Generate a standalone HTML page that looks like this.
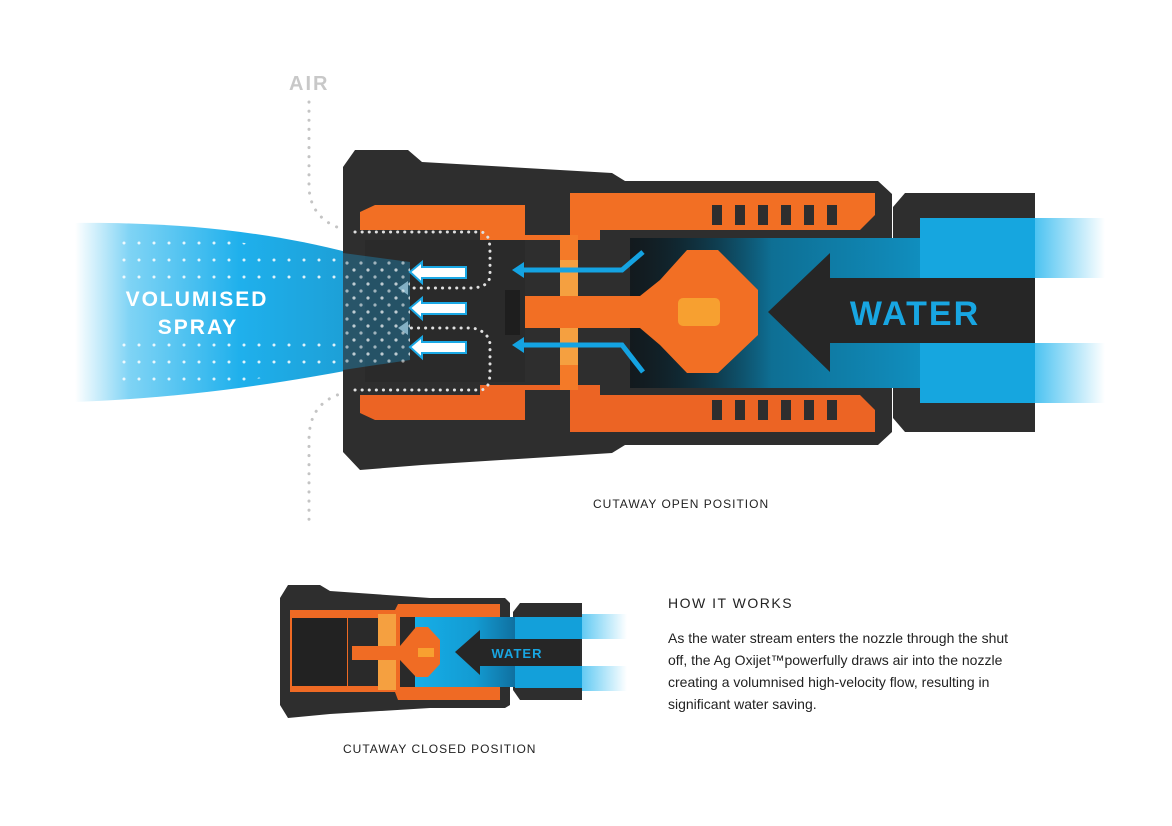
<!DOCTYPE html>
<html><head><meta charset="utf-8"><style>
html,body{margin:0;padding:0;background:#fff;width:1172px;height:826px;overflow:hidden}
svg{position:absolute;left:0;top:0}
.t{position:absolute;font-family:"Liberation Sans",sans-serif;color:#222}
</style></head><body>
<svg width="1172" height="826" viewBox="0 0 1172 826">
<defs>
<linearGradient id="spray" x1="0" x2="1" y1="0" y2="0">
<stop offset="0" stop-color="#29b6ee" stop-opacity="0"/>
<stop offset="0.2" stop-color="#29b6ee" stop-opacity="0.6"/>
<stop offset="0.6" stop-color="#1fb0ec"/>
<stop offset="1" stop-color="#1d9fd6"/>
</linearGradient>
<linearGradient id="water" x1="0" x2="1">
<stop offset="0" stop-color="#0a1a22" stop-opacity="0.2"/>
<stop offset="0.35" stop-color="#0e6f94"/>
<stop offset="1" stop-color="#12a6df"/>
</linearGradient>
<linearGradient id="fade" x1="0" x2="1">
<stop offset="0" stop-color="#20b4ee"/>
<stop offset="1" stop-color="#20b4ee" stop-opacity="0"/>
</linearGradient>
<linearGradient id="water2" x1="0" x2="1">
<stop offset="0" stop-color="#16aee8"/>
<stop offset="0.6" stop-color="#139bd2"/>
<stop offset="1" stop-color="#1070a0"/>
</linearGradient>
<pattern id="dots" width="15" height="17" patternUnits="userSpaceOnUse">
<circle cx="4" cy="5" r="1.5" fill="#fff"/>
</pattern>
<pattern id="dots2" width="14" height="14" patternUnits="userSpaceOnUse">
<circle cx="4" cy="4" r="1.6" fill="#fff"/><circle cx="11" cy="11" r="1.6" fill="#fff" opacity="0.8"/>
</pattern>
</defs>

<path d="M75,223 C180,222 270,232 350,253 L350,370 C270,385 180,398 75,402 Z" fill="url(#spray)"/>
<path d="M115,235 C200,235 280,245 350,262 L350,285 L115,285 Z M115,340 L350,340 L350,362 C280,375 200,392 115,390 Z" fill="url(#dots)" opacity="0.85"/>
<text x="197" y="306" fill="#fff" font-family="Liberation Sans,sans-serif" font-size="21" font-weight="bold" letter-spacing="2" text-anchor="middle">VOLUMISED</text>
<text x="198" y="334" fill="#fff" font-family="Liberation Sans,sans-serif" font-size="21" font-weight="bold" letter-spacing="2" text-anchor="middle">SPRAY</text>

<text x="289" y="90" fill="#c8c8c8" font-family="Liberation Sans,sans-serif" font-size="20" font-weight="bold" letter-spacing="2">AIR</text>
<path d="M309,102 L309,185 C309,215 330,228 355,232" fill="none" stroke="#c4c4c4" stroke-width="3" stroke-dasharray="0.1 9" stroke-linecap="round"/>
<path d="M355,390 C330,395 309,405 309,440 L309,520" fill="none" stroke="#c4c4c4" stroke-width="3" stroke-dasharray="0.1 9" stroke-linecap="round"/>

<path d="M355,150 L408,150 L422,162 L612,173 L625,181 L878,181 L892,194 L892,432 L878,445 L625,445 L612,453 L422,465 L360,470 L343,452 L343,167 Z" fill="#2e2e2e"/>
<path d="M905,193 L1035,193 L1035,432 L905,432 L893,418 L893,207 Z" fill="#2e2e2e"/>
<path d="M360,212 L375,205 L525,205 L525,235 L570,235 L570,193 L875,193 L875,215 L860,230 L600,230 L600,240 L480,240 L480,230 L360,230 Z" fill="#f26f24"/>
<path d="M360,395 L480,395 L480,385 L600,385 L600,395 L860,395 L875,410 L875,432 L570,432 L570,390 L525,390 L525,420 L375,420 L360,413 Z" fill="#ec6424"/>
<g fill="#2e2e2e">
<rect x="712" y="205" width="10" height="20"/><rect x="735" y="205" width="10" height="20"/><rect x="758" y="205" width="10" height="20"/><rect x="781" y="205" width="10" height="20"/><rect x="804" y="205" width="10" height="20"/><rect x="827" y="205" width="10" height="20"/>
<rect x="712" y="400" width="10" height="20"/><rect x="735" y="400" width="10" height="20"/><rect x="758" y="400" width="10" height="20"/><rect x="781" y="400" width="10" height="20"/><rect x="804" y="400" width="10" height="20"/><rect x="827" y="400" width="10" height="20"/>
</g>
<rect x="560" y="235" width="18" height="155" fill="#f47a28"/>
<rect x="560" y="260" width="18" height="105" fill="#f5a040"/>
<rect x="630" y="238" width="265" height="150" fill="#151a1d"/>
<rect x="630" y="238" width="405" height="150" fill="url(#water)"/>
<rect x="1035" y="218" width="70" height="60" fill="url(#fade)" opacity="0.8"/>
<rect x="1035" y="343" width="70" height="60" fill="url(#fade)" opacity="0.8"/>
<rect x="920" y="218" width="115" height="60" fill="#16a6df"/>
<rect x="920" y="343" width="115" height="60" fill="#16a6df"/>
<path d="M768,312 L830,253 L830,278 L1035,278 L1035,343 L830,343 L830,372 Z" fill="#262626"/>
<text x="915" y="325" fill="#18a6e2" font-family="Liberation Sans,sans-serif" font-size="34" font-weight="bold" letter-spacing="2" text-anchor="middle">WATER</text>
<path d="M687,250 L718,250 L758,290 L758,335 L718,373 L687,373 L660,345 L640,328 L510,328 L510,296 L640,296 L660,280 Z" fill="#f26f24"/>
<rect x="678" y="298" width="42" height="28" rx="5" fill="#f7a030"/>
<rect x="365" y="240" width="160" height="142" fill="#2a2a2a"/>
<rect x="505" y="290" width="15" height="45" fill="#1e1e1e"/>
<path d="M355,232 L480,232 C490,232 490,245 490,255 L490,275 C490,285 480,288 470,288 L410,288" fill="none" stroke="#e0e0e0" stroke-width="3" stroke-dasharray="0.1 7" stroke-linecap="round"/>
<path d="M355,390 L480,390 C490,390 490,378 490,368 L490,345 C490,335 480,328 470,328 L410,328" fill="none" stroke="#e0e0e0" stroke-width="3" stroke-dasharray="0.1 7" stroke-linecap="round"/>
<path d="M398,288 L408,281 L408,295 Z M398,328 L408,321 L408,335 Z" fill="#bbb"/>
<path d="M343,253 L410,262 L410,360 L343,370 Z" fill="#1d9fd6" opacity="0.35"/>
<rect x="345" y="258" width="65" height="105" fill="url(#dots2)" opacity="0.7"/>
<g fill="#fff" stroke="#1aa8e5" stroke-width="2">
<path d="M410,272 L422,262 L422,267 L466,267 L466,278 L422,278 L422,283 Z"/>
<path d="M410,308 L422,298 L422,303 L466,303 L466,314 L422,314 L422,319 Z"/>
<path d="M410,347 L422,337 L422,342 L466,342 L466,353 L422,353 L422,358 Z"/>
</g>
<g fill="none" stroke="#14a3e2" stroke-width="5">
<path d="M643,252 L622,270 L520,270"/>
<path d="M643,372 L622,345 L520,345"/>
</g>
<path d="M512,270 L524,262 L524,278 Z M512,345 L524,337 L524,353 Z" fill="#14a3e2"/>

<path d="M288,585 L320,585 L330,591 L430,598 L505,598 L510,603 L510,705 L505,708 L430,708 L330,714 L288,718 L280,705 L280,598 Z" fill="#2e2e2e"/>
<path d="M520,603 L582,603 L582,700 L520,700 L513,690 L513,612 Z" fill="#2e2e2e"/>
<path d="M290,610 L395,610 L398,604 L500,604 L500,700 L398,700 L395,692 L290,692 Z" fill="#ef6a24"/>
<rect x="292" y="618" width="55" height="68" fill="#222"/>
<rect x="348" y="618" width="30" height="68" fill="#2a2a2a"/>
<rect x="378" y="614" width="18" height="76" fill="#f5a040"/>
<rect x="400" y="617" width="100" height="70" fill="#2a2a2a"/>
<rect x="415" y="617" width="100" height="70" fill="url(#water2)"/>
<rect x="515" y="617" width="67" height="22" fill="#13a0da"/>
<rect x="515" y="666" width="67" height="22" fill="#13a0da"/>
<rect x="582" y="614" width="45" height="25" fill="url(#fade)" opacity="0.7"/>
<rect x="582" y="666" width="45" height="25" fill="url(#fade)" opacity="0.7"/>
<path d="M455,652 L480,630 L480,639 L580,639 L580,666 L480,666 L480,675 Z" fill="#262626"/>
<path d="M416,627 L428,627 L440,640 L440,664 L428,677 L416,677 L400,660 L352,660 L352,646 L400,646 Z" fill="#f06c24"/>
<rect x="418" y="648" width="16" height="9" fill="#f8a030"/>
<text x="517" y="658" fill="#18a6e2" font-family="Liberation Sans,sans-serif" font-size="13" font-weight="bold" letter-spacing="1" text-anchor="middle">WATER</text>
</svg>

<div class="t" style="left:593px;top:497px;font-size:12px;letter-spacing:1px">CUTAWAY OPEN POSITION</div>
<div class="t" style="left:343px;top:742px;font-size:12px;letter-spacing:1px">CUTAWAY CLOSED POSITION</div>
<div class="t" style="left:668px;top:595px;font-size:14px;letter-spacing:1.5px">HOW IT WORKS</div>
<div class="t" style="left:668px;top:627px;font-size:14px;line-height:22px;width:400px">As the water stream enters the nozzle through the shut<br>off, the Ag Oxijet™powerfully draws air into the nozzle<br>creating a volumnised high-velocity flow, resulting in<br>significant water saving.</div>
</body></html>
